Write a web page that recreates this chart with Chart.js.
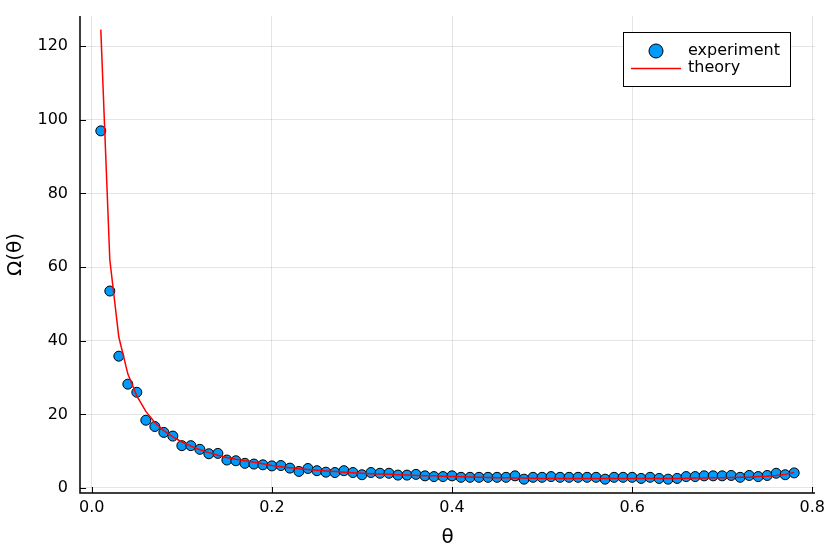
<!DOCTYPE html>
<html><head><meta charset="utf-8">
<script src="https://cdn.jsdelivr.net/npm/chart.js@4/dist/chart.umd.min.js"></script>
<style>html,body{margin:0;padding:0;background:#fff}#wrap{width:830px;height:554px}</style>
</head><body><div id="wrap"><canvas id="c" width="830" height="554"></canvas></div>
<script>
const theta = [0.01,0.02,0.03,0.04,0.05,0.06,0.07,0.08,0.09,0.10,0.11,0.12,0.13,0.14,0.15,0.16,0.17,0.18,0.19,0.20,
0.21,0.22,0.23,0.24,0.25,0.26,0.27,0.28,0.29,0.30,0.31,0.32,0.33,0.34,0.35,0.36,0.37,0.38,0.39,0.40,
0.41,0.42,0.43,0.44,0.45,0.46,0.47,0.48,0.49,0.50,0.51,0.52,0.53,0.54,0.55,0.56,0.57,0.58,0.59,0.60,
0.61,0.62,0.63,0.64,0.65,0.66,0.67,0.68,0.69,0.70,0.71,0.72,0.73,0.74,0.75,0.76,0.77,0.78];
const experiment = [97.0,53.5,35.8,28.2,26.0,18.4,16.7,15.1,14.1,11.5,11.5,10.5,9.3,9.4,7.6,7.4,6.7,6.5,6.3,6.0,
6.1,5.4,4.5,5.3,4.7,4.3,4.2,4.7,4.2,3.6,4.2,4.0,4.0,3.5,3.5,3.7,3.3,3.1,3.1,3.3,
2.9,2.9,2.9,2.9,2.9,2.9,3.3,2.4,2.9,2.9,3.1,2.9,2.9,2.9,2.9,2.9,2.4,2.9,2.9,2.9,
2.6,2.9,2.6,2.4,2.6,3.1,3.1,3.3,3.3,3.3,3.4,2.9,3.4,3.1,3.4,4.0,3.6,4.1];
const theory = [124.5,62.0,41.0,31.0,25.0,20.8,17.8,15.6,13.9,12.5,11.4,10.4,9.6,8.9,8.3,7.8,7.4,7.0,6.6,6.1,
5.8,5.5,5.2,5.0,4.8,4.6,4.45,4.3,4.15,4.0,3.9,3.8,3.7,3.6,3.5,3.4,3.35,3.3,3.2,3.15,
3.05,3.0,2.9,2.85,2.8,2.75,2.7,2.7,2.65,2.6,2.6,2.6,2.55,2.55,2.55,2.55,2.55,2.55,2.55,2.55,
2.55,2.55,2.6,2.6,2.6,2.65,2.7,2.7,2.75,2.8,2.85,2.9,2.95,3.1,3.2,3.4,3.7,4.2];
const xTicks = [0.0,0.2,0.4,0.6,0.8];
const xTickLabels = ["0.0","0.2","0.4","0.6","0.8"];
const yTicks = [0,20,40,60,80,100,120];
const seriesNames = ["experiment","theory"];
const xLabel = "θ";
const yLabel = "Ω(θ)";

const FONT = "'DejaVu Sans', sans-serif";
const BLUE = "rgb(0,154,250)";

const tickMarks = {
  id: 'tickMarks',
  afterDatasetsDraw(chart) {
    const ctx = chart.ctx, a = chart.chartArea;
    const xs = chart.scales.x, ys = chart.scales.y;
    ctx.save();
    ctx.strokeStyle = '#000'; ctx.lineWidth = 1;
    ctx.beginPath();
    xTicks.forEach(v => { const p = Math.round(xs.getPixelForValue(v)) + 0.5; ctx.moveTo(p, a.bottom); ctx.lineTo(p, a.bottom - 6); });
    yTicks.forEach(v => { const p = Math.round(ys.getPixelForValue(v)) + 0.5; ctx.moveTo(a.left, p); ctx.lineTo(a.left + 6, p); });
    ctx.stroke();
    ctx.beginPath();
    ctx.lineWidth = 1.5;
    ctx.moveTo(a.left, a.top); ctx.lineTo(a.left, a.bottom); ctx.lineTo(a.right, a.bottom);
    ctx.stroke();
    // legend
    const lx = 623, ly = 32, lw = 167, lh = 54;
    ctx.fillStyle = '#fff';
    ctx.fillRect(lx, ly, lw, lh);
    ctx.lineWidth = 1; ctx.strokeStyle = '#000';
    ctx.strokeRect(lx + 0.5, ly + 0.5, lw, lh);
    ctx.beginPath(); ctx.arc(656, 51, 7, 0, Math.PI * 2);
    ctx.fillStyle = BLUE; ctx.fill(); ctx.strokeStyle = '#000'; ctx.stroke();
    ctx.beginPath(); ctx.moveTo(631, 68.5); ctx.lineTo(681, 68.5);
    ctx.strokeStyle = 'red'; ctx.lineWidth = 1.5; ctx.stroke();
    ctx.fillStyle = '#000'; ctx.font = "16px " + FONT; ctx.textBaseline = 'middle'; ctx.textAlign = 'left';
    ctx.fillText(seriesNames[0], 688, 51);
    ctx.fillText(seriesNames[1], 688, 68);
    ctx.restore();
  }
};

new Chart(document.getElementById('c'), {
  type: 'scatter',
  data: {
    datasets: [
      { label: seriesNames[1], data: theta.map((t, i) => ({x: t, y: theory[i]})), showLine: true,
        borderColor: 'red', borderWidth: 1.5, pointRadius: 0, tension: 0, order: 1 },
      { label: seriesNames[0], data: theta.map((t, i) => ({x: t, y: experiment[i]})),
        backgroundColor: BLUE, borderColor: '#000', borderWidth: 1, pointRadius: 5, order: 2 }
    ]
  },
  options: {
    responsive: false, animation: false, devicePixelRatio: 1,
    layout: { padding: { left: 0, right: 15, top: 16, bottom: 0 } },
    plugins: { legend: { display: false }, tooltip: { enabled: false } },
    scales: {
      x: {
        type: 'linear', min: -0.0131, max: 0.8031,
        afterBuildTicks: s => { s.ticks = xTicks.map(v => ({value: v})); },
        afterFit: s => { s.height = 61; s.paddingLeft = 0; s.paddingRight = 0; },
        ticks: { font: { size: 16, family: FONT }, color: '#000', maxRotation: 0, padding: 5,
          callback: (v) => xTickLabels[xTicks.indexOf(v)] },
        grid: { color: 'rgba(0,0,0,0.1)', drawTicks: false },
        border: { display: false },
        title: { display: true, text: xLabel, font: { size: 20, family: FONT }, color: '#000', padding: { top: 4 } }
      },
      y: {
        min: -1.36, max: 128.2,
        afterBuildTicks: s => { s.ticks = yTicks.map(v => ({value: v})); },
        afterFit: s => { s.width = 80; s.paddingTop = 0; s.paddingBottom = 0; },
        ticks: { font: { size: 16, family: FONT }, color: '#000', padding: 12 },
        grid: { color: 'rgba(0,0,0,0.1)', drawTicks: false },
        border: { display: false },
        title: { display: true, text: yLabel, font: { size: 20, family: FONT }, color: '#000', padding: { bottom: 4 } }
      }
    }
  },
  plugins: [tickMarks]
});
</script></body></html>
